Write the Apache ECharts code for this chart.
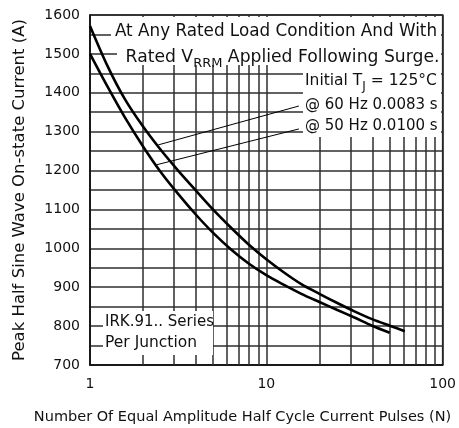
<!DOCTYPE html>
<html><head><meta charset="utf-8">
<script src="https://cdn.jsdelivr.net/npm/echarts@6/dist/echarts.min.js"></script>
<style>html,body{margin:0;padding:0;background:#fff}#c{width:459px;height:428px}</style>
</head><body><div id="c"></div>
<script>
// Data (N pulses, peak current in A)
const pulses60 = [1, 1.26, 1.58, 2, 2.51, 3.16, 3.98, 5.01, 6.31, 7.94, 10, 12.6, 15.8, 20, 25.1, 31.6, 39.8, 50.1, 61];
const current60 = [1572, 1468, 1383, 1313, 1254, 1200, 1149, 1099, 1053, 1010, 972, 938, 908, 883, 860, 838, 818, 801, 787];
const pulses50 = [1, 1.26, 1.58, 2, 2.51, 3.16, 3.98, 5.01, 6.31, 7.94, 10, 12.6, 15.8, 20, 25.1, 31.6, 39.8, 50.1];
const current50 = [1500, 1415, 1336, 1262, 1197, 1140, 1087, 1039, 997, 961, 931, 906, 883, 862, 842, 822, 801, 783];
const minorX = [2, 3, 4, 5, 6, 7, 8, 9, 20, 30, 40, 50, 60, 70, 80, 90];
const leader60 = [[2.44, 1266], [15.3, 1366]];
const leader50 = [[2.39, 1215], [15.3, 1307]];
const xTitle = 'Number Of Equal Amplitude Half Cycle Current Pulses (N)';
const yTitle = 'Peak Half Sine Wave On-state Current (A)';

const FONT = 'DejaVu Sans';
const INK = '#111';
const GRID = '#2e2e2e';

const chart = echarts.init(document.getElementById('c'), null, {renderer: 'canvas'});

function txt(x, y, text, size, align, rich) {
  const st = {text: text, x: 0, y: 0, fill: INK, font: size + 'px "' + FONT + '"', align: align || 'left', verticalAlign: 'middle'};
  if (rich) { st.rich = rich; }
  return {type: 'text', x: x, y: y, z: 101, style: st};
}
function box(x, y, w, h) {
  return {type: 'rect', z: 100, shape: {x: x, y: y, width: w, height: h}, style: {fill: '#fff'}};
}
function subRich(size, subSize) {
  return {
    m: {fontSize: size, fontFamily: FONT, lineHeight: 18, verticalAlign: 'top', color: INK},
    s: {fontSize: subSize, fontFamily: FONT, lineHeight: subSize, padding: [8, 0, 0, 0], verticalAlign: 'top', color: INK}
  };
}

const option = {
  animation: false,
  backgroundColor: '#fff',
  textStyle: {fontFamily: FONT},
  grid: {left: 90, right: 16, top: 15, bottom: 63, show: true, borderColor: INK, borderWidth: 1.5, backgroundColor: 'transparent'},
  xAxis: {
    type: 'log', logBase: 10, min: 1, max: 100,
    axisLine: {show: true, lineStyle: {color: INK, width: 1.5}},
    axisTick: {show: false},
    axisLabel: {fontSize: 14, color: INK, margin: 12, fontFamily: FONT},
    splitLine: {show: true, lineStyle: {color: GRID, width: 1.5}}
  },
  yAxis: {
    type: 'value', min: 700, max: 1600, interval: 50,
    name: yTitle, nameLocation: 'middle', nameGap: 62, nameRotate: 90,
    nameTextStyle: {fontSize: 16.5, color: INK, fontFamily: FONT},
    axisLine: {show: true, lineStyle: {color: INK, width: 1.5}},
    axisTick: {show: false},
    axisLabel: {fontSize: 14, color: INK, margin: 10, fontFamily: FONT,
      formatter: v => (v % 100 === 0 ? String(v) : '')},
    splitLine: {show: true, lineStyle: {color: GRID, width: 1.5}}
  },
  series: [
    {
      name: 'grid', type: 'line', data: [], z: 1, silent: true,
      markLine: {
        silent: true, symbol: ['none', 'none'], animation: false,
        label: {show: false},
        lineStyle: {color: GRID, width: 1.5, type: 'solid'},
        data: minorX.map(v => ({xAxis: v}))
      }
    },
    {
      name: '60 Hz', type: 'line', z: 5, smooth: 0.3, symbol: 'none',
      lineStyle: {color: '#000', width: 2.6},
      data: pulses60.map((n, i) => [n, current60[i]]),
      markLine: {
        silent: true, symbol: ['none', 'none'], animation: false, label: {show: false},
        lineStyle: {color: '#000', width: 1, type: 'solid'},
        data: [[{coord: leader60[0]}, {coord: leader60[1]}]]
      }
    },
    {
      name: '50 Hz', type: 'line', z: 5, smooth: 0.3, symbol: 'none',
      lineStyle: {color: '#000', width: 2.6},
      data: pulses50.map((n, i) => [n, current50[i]]),
      markLine: {
        silent: true, symbol: ['none', 'none'], animation: false, label: {show: false},
        lineStyle: {color: '#000', width: 1, type: 'solid'},
        data: [[{coord: leader50[0]}, {coord: leader50[1]}]]
      }
    }
  ],
  graphic: {
    elements: [
      box(111, 17, 330, 26),
      box(117, 43, 324, 22),
      box(303, 65, 138, 72),
      box(103, 311, 110, 44),
      txt(276, 32, 'At Any Rated Load Condition And With', 16.8, 'center'),
      txt(282.5, 58, '{m|Rated V}{s|RRM}{m| Applied Following Surge.}', 17.2, 'center', subRich(17.2, 13)),
      txt(305, 82, '{m|Initial T}{s|J}{m| = 125°C}', 15.5, 'left', subRich(15.5, 12)),
      txt(305, 105, '@ 60 Hz 0.0083 s', 15, 'left'),
      txt(305, 126, '@ 50 Hz 0.0100 s', 15, 'left'),
      txt(105, 322, 'IRK.91.. Series', 15, 'left'),
      txt(105, 343, 'Per Junction', 15.5, 'left'),
      {type: 'text', x: 242.5, y: 417, z: 101,
       style: {text: xTitle, fill: INK, font: '14.5px "' + FONT + '"', align: 'center', verticalAlign: 'middle'}}
    ]
  }
};
chart.setOption(option);
</script></body></html>
